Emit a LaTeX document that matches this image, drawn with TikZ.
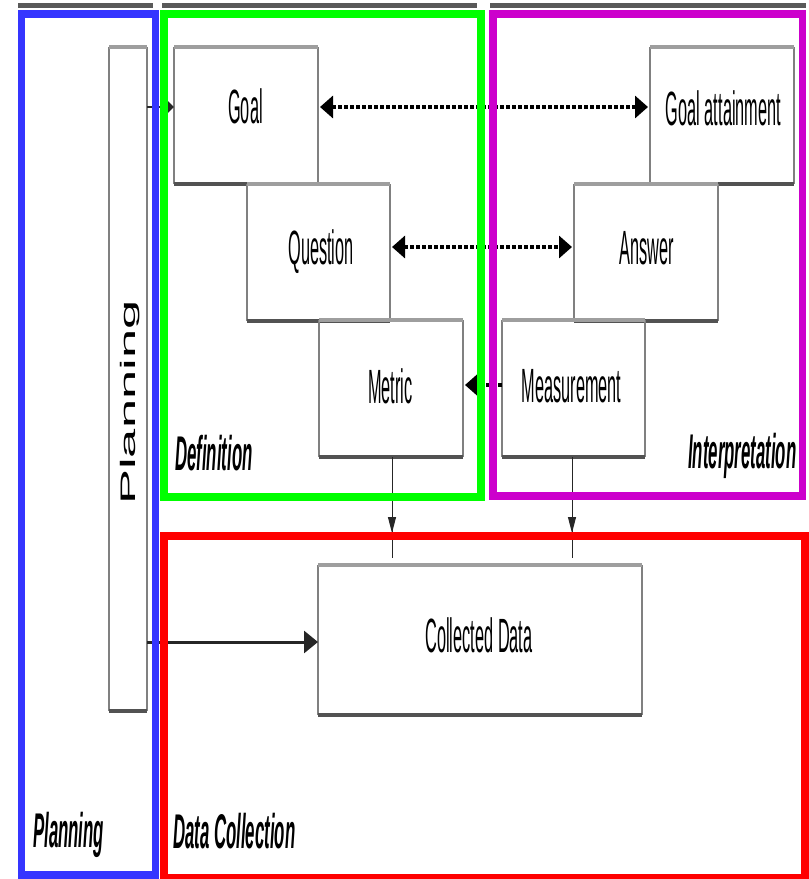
\documentclass[tikz,border=0pt]{standalone}
\usepackage{fontspec}
\setmainfont{Liberation Sans}
\usepackage{graphicx}
\usetikzlibrary{arrows.meta}
\newcommand\stx[1]{\scalebox{1}[2.95]{#1}}
\newcommand\stl[1]{\scalebox{1}[2.9]{#1}}
\newcommand\mybox[5]{%
  \node[boxnode, minimum width=#4pt, minimum height=#5pt] (#1) at (#2,#3) {};
  \draw[vedge] (#1.north west) -- (#1.south west);
  \draw[vedge] (#1.north east) -- (#1.south east);
  \draw[topedge] (#1.north west) -- (#1.north east);
  \draw[botedge] (#1.south west) -- (#1.south east);}
\definecolor{fblue}{HTML}{3535FF}
\definecolor{fgreen}{HTML}{00FF00}
\definecolor{fpurple}{HTML}{CC00CC}
\definecolor{fred}{HTML}{FF0000}
\begin{document}
\begin{tikzpicture}[x=1pt,y=-1pt,
  boxnode/.style={rectangle,draw=none,inner sep=0pt,outer sep=0pt},
  vedge/.style={draw=black!50,line width=1.1pt},
  topedge/.style={draw=black!38,line width=3.2pt},
  botedge/.style={draw=black!68,line width=3.2pt},
  boxtext/.style={anchor=base,inner sep=0pt,font=\fontsize{16.3}{18}\selectfont},
  lbl/.style={anchor=base west,inner sep=0pt,font=\fontsize{16.8}{18}\selectfont\bfseries\itshape},
  frame/.style={line width=7.5pt},
  topbar/.style={draw=black!65,line width=4.5pt},
  dotline/.style={line width=3.5pt,dash pattern=on 4pt off 2pt},
  htip/.style={-{Triangle[length=13pt,width=22pt]}},
  htiptwo/.style={{Triangle[length=13pt,width=22pt]}-{Triangle[length=13pt,width=22pt]}},
  vline/.style={draw=black!85,line width=1pt},
  vtip/.style={-{Triangle[length=16pt,width=8pt]}}
]
\fill[white] (0,0) rectangle (809,879);
\useasboundingbox (0,0) rectangle (809,879);

% top bars
\draw[topbar] (18,5.5) -- (153,5.5);
\draw[topbar] (162,5.5) -- (477,5.5);
\draw[topbar] (490,5.5) -- (806,5.5);

% boxes
\mybox{planning}{128}{379}{38}{664}
\mybox{goal}{246}{115.5}{144}{137}
\mybox{question}{318.5}{252.5}{143}{137}
\mybox{metric}{391}{388.5}{144}{137}
\mybox{gatt}{722}{115.5}{144}{137}
\mybox{answer}{646}{252.5}{144}{137}
\mybox{meas}{573.5}{388.5}{143}{137}
\mybox{cd}{480}{640}{324}{150}

% texts
\node[boxtext] (goalt) at (245.5,123) {\stx{Goal}};
\node[boxtext] (gattt) at (723.5,125) {\stx{Goal attainment}};
\node[boxtext] (questiont) at (321,264) {\stx{Question}};
\node[boxtext] (answert) at (647,264) {\stx{Answer}};
\node[boxtext] (metrict) at (390.5,403) {\stx{Metric}};
\node[boxtext] (meast) at (571.5,402) {\stx{Measurement}};
\node[boxtext] (cdt) at (479,652) {\stx{Collected Data}};
\node[rotate=90,anchor=base,inner sep=0pt,font=\fontsize{21}{21}\selectfont] (plant) at (135,402.5) {\scalebox{2.5}[1]{Planning}};

% connectors
\coordinate (gw) at ([yshift=8.5pt]goal.west);
\draw[line width=2.5pt,black!85,-{Triangle[length=7pt,width=13pt]}] (planning.east |- gw) -- (gw);
\draw[dotline,htiptwo] ([yshift=8.5pt,xshift=2pt]goal.east) -- ([yshift=8.5pt,xshift=-2pt]gatt.west);
\draw[dotline,htiptwo] ([yshift=5.5pt,xshift=2pt]question.east) -- ([yshift=5.5pt,xshift=-2pt]answer.west);
\draw[dotline,htip] ([yshift=3.5pt]meas.west) -- ([yshift=3.5pt,xshift=2pt]metric.east);
\coordinate (cdw) at ([yshift=-2pt]cd.west);
\draw[line width=3pt,black!85,-{Triangle[length=14pt,width=22pt]}] (planning.east |- cdw) -- (cdw);

\coordinate (mtip) at (392,533);
\coordinate (mend) at (392,558);
\coordinate (stip) at (572,533);
\coordinate (send) at (572,558);
\draw[vline] (metric.south -| mtip) -- (mend);
\draw[vline,vtip] (metric.south -| mtip) -- (mtip);
\draw[vline] (meas.south -| stip) -- (send);
\draw[vline,vtip] (meas.south -| stip) -- (stip);

% frames
\draw[frame,fblue] (21.5,14) rectangle (155.5,875);
\draw[frame,fgreen] (164,14) rectangle (481,497);
\draw[frame,fpurple] (493,14) rectangle (802.5,496);
\draw[frame,fred] (164,536) rectangle (805,878);

% labels
\node[lbl] (deflbl) at (175,470) {\stl{Definition}};
\node[lbl] (intlbl) at (688,468) {\stl{Interpretation}};
\node[lbl] (planlbl) at (33,847) {\stl{Planning}};
\node[lbl] (dclbl) at (173,848) {\stl{Data Collection}};
\end{tikzpicture}
\end{document}
